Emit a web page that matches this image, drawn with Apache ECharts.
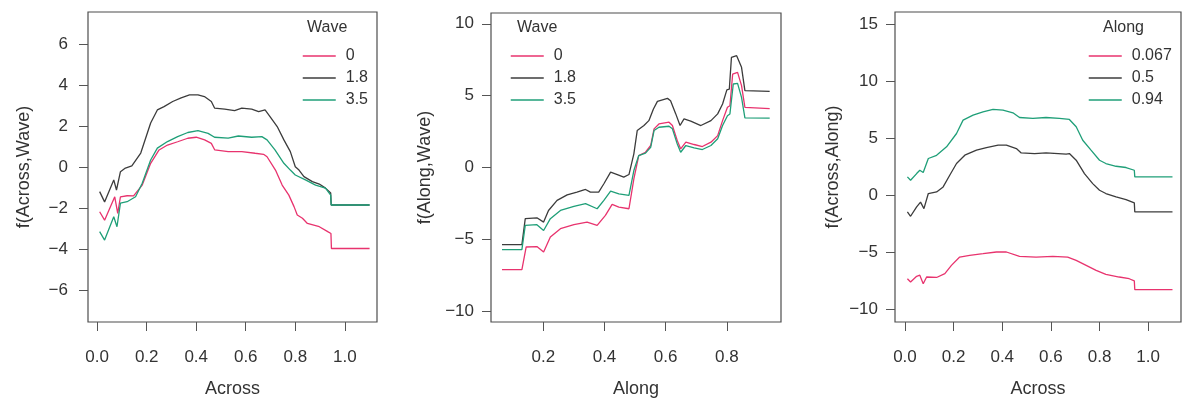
<!DOCTYPE html>
<html>
<head>
<meta charset="utf-8">
<script src="https://cdn.jsdelivr.net/npm/echarts/dist/echarts.min.js"></script>
<style>
html,body{margin:0;padding:0;background:#fff;}
#chart{width:1182px;height:403px;}
</style>
</head>
<body>
<div id="chart"></div>
<script>
// ---------- Panel 1: f(Across, Wave) ----------
const p1_wave_names = ['0', '1.8', '3.5'];
const p1_x_w0 = [0.01,0.03,0.071,0.083,0.094,0.121,0.147,0.182,0.216,0.25,0.284,0.325,0.366,0.4,0.434,0.461,0.475,0.529,0.584,0.638,0.672,0.686,0.72,0.747,0.774,0.795,0.808,0.829,0.849,0.897,0.931,0.944,0.946,1.10];
const p1_y_w0 = [-2.18,-2.59,-1.45,-2.26,-1.45,-1.4,-1.41,-0.88,0.18,0.83,1.07,1.23,1.4,1.45,1.32,1.15,0.83,0.75,0.75,0.67,0.62,0.5,-0.15,-0.88,-1.37,-1.93,-2.34,-2.5,-2.75,-2.91,-3.15,-3.24,-3.97,-3.97];
const p1_x_w18 = [0.01,0.03,0.067,0.078,0.094,0.114,0.14,0.176,0.196,0.216,0.243,0.27,0.305,0.339,0.373,0.407,0.433,0.461,0.474,0.515,0.555,0.584,0.624,0.652,0.678,0.698,0.727,0.754,0.78,0.8,0.815,0.835,0.869,0.897,0.922,0.943,0.945,1.10];
const p1_y_w18 = [-1.2,-1.7,-0.63,-1.12,-0.23,-0.05,0.05,0.68,1.41,2.14,2.78,2.94,3.19,3.37,3.51,3.51,3.43,3.19,2.87,2.82,2.75,2.87,2.82,2.7,2.78,2.45,1.97,1.32,0.75,0.01,-0.15,-0.47,-0.71,-0.83,-1.03,-1.27,-1.85,-1.85];
const p1_x_w35 = [0.01,0.03,0.067,0.08,0.094,0.121,0.155,0.182,0.216,0.243,0.284,0.325,0.366,0.407,0.448,0.474,0.529,0.57,0.624,0.665,0.686,0.718,0.754,0.78,0.8,0.841,0.882,0.922,0.943,0.945,1.10];
const p1_y_w35 = [-3.15,-3.56,-2.42,-2.91,-1.76,-1.69,-1.45,-0.79,0.34,0.92,1.24,1.48,1.68,1.77,1.64,1.45,1.41,1.51,1.45,1.48,1.32,0.83,0.18,-0.15,-0.39,-0.63,-0.88,-1.03,-1.37,-1.85,-1.85];

// ---------- Panel 2: f(Along, Wave) ----------
const p2_x_w0 = [0.065,0.13,0.144,0.179,0.201,0.223,0.256,0.3,0.343,0.376,0.403,0.425,0.447,0.48,0.496,0.512,0.534,0.551,0.562,0.578,0.611,0.622,0.638,0.649,0.666,0.693,0.72,0.748,0.77,0.786,0.802,0.81,0.819,0.835,0.848,0.859,0.94];
const p2_y_w0 = [-7.1,-7.1,-5.53,-5.5,-5.88,-4.84,-4.26,-3.98,-3.8,-4.03,-3.33,-2.57,-2.75,-2.87,-0.79,0.83,1.06,1.53,2.69,3.03,3.15,2.92,1.87,1.3,1.76,1.6,1.46,1.76,2.22,3.26,4.19,4.3,6.5,6.62,5.7,4.19,4.1];
const p2_x_w18 = [0.065,0.13,0.141,0.179,0.201,0.217,0.245,0.278,0.31,0.338,0.354,0.381,0.398,0.42,0.442,0.463,0.48,0.496,0.507,0.529,0.545,0.56,0.573,0.606,0.616,0.633,0.647,0.66,0.682,0.715,0.748,0.77,0.786,0.8,0.808,0.815,0.832,0.848,0.859,0.94];
const p2_y_w18 = [-5.37,-5.37,-3.56,-3.5,-3.8,-2.99,-2.29,-1.9,-1.71,-1.53,-1.71,-1.71,-1.13,-0.32,-0.49,-0.67,-0.49,0.95,2.57,2.92,3.26,4.07,4.6,4.81,4.65,3.73,2.92,3.38,3.22,2.92,3.26,3.73,4.42,5.4,5.45,7.66,7.78,6.97,5.35,5.3];
const p2_x_w35 = [0.065,0.13,0.141,0.179,0.201,0.223,0.256,0.3,0.338,0.376,0.398,0.42,0.447,0.48,0.496,0.512,0.534,0.551,0.562,0.578,0.611,0.622,0.638,0.649,0.666,0.693,0.72,0.748,0.77,0.786,0.802,0.81,0.821,0.835,0.848,0.859,0.94];
const p2_y_w35 = [-5.72,-5.72,-4.03,-3.98,-4.38,-3.56,-2.99,-2.71,-2.52,-2.87,-2.29,-1.64,-1.83,-1.94,-0.21,0.83,1.0,1.4,2.57,2.8,2.87,2.69,1.64,1.06,1.53,1.37,1.25,1.53,2.0,2.92,3.6,3.72,5.81,5.85,4.88,3.45,3.43];

// ---------- Panel 3: f(Across, Along) ----------
const p3_along_names = ['0.067', '0.5', '0.94'];
const p3_x_a0067 = [0.01,0.023,0.048,0.061,0.075,0.089,0.13,0.164,0.191,0.225,0.266,0.321,0.376,0.417,0.471,0.539,0.608,0.669,0.704,0.745,0.786,0.826,0.881,0.922,0.943,0.945,1.10];
const p3_y_a0067 = [-7.31,-7.6,-7.1,-7.0,-7.75,-7.16,-7.2,-6.87,-6.14,-5.41,-5.26,-5.12,-4.97,-4.97,-5.35,-5.41,-5.35,-5.41,-5.7,-6.14,-6.58,-6.93,-7.16,-7.31,-7.5,-8.27,-8.27];
const p3_x_a05 = [0.01,0.023,0.048,0.064,0.078,0.096,0.13,0.157,0.184,0.212,0.246,0.294,0.335,0.383,0.417,0.458,0.478,0.533,0.58,0.663,0.676,0.704,0.738,0.772,0.8,0.826,0.868,0.909,0.943,0.945,1.10];
const p3_y_a05 = [-1.46,-1.84,-1.02,-0.6,-1.17,0.15,0.29,0.73,1.75,2.78,3.51,3.95,4.18,4.39,4.39,4.09,3.71,3.65,3.71,3.6,3.65,3.07,1.9,1.02,0.44,0.15,-0.15,-0.38,-0.67,-1.46,-1.46];
const p3_x_a094 = [0.01,0.023,0.048,0.061,0.075,0.096,0.13,0.171,0.212,0.239,0.28,0.321,0.362,0.403,0.444,0.471,0.526,0.58,0.635,0.676,0.704,0.731,0.765,0.8,0.826,0.868,0.909,0.943,0.945,1.10];
const p3_y_a094 = [1.61,1.32,1.9,2.19,2.0,3.22,3.5,4.24,5.41,6.58,7.02,7.31,7.52,7.46,7.22,6.81,6.73,6.81,6.73,6.64,6.0,4.82,3.95,3.07,2.78,2.54,2.43,2.19,1.61,1.61];

// ---------- Tick labels ----------
const ticks_across = [0, 0.2, 0.4, 0.6, 0.8, 1.0];
const ticks_along = [0.2, 0.4, 0.6, 0.8];
const ticks_p1_y = [-6, -4, -2, 0, 2, 4, 6];
const ticks_p2_y = [-10, -5, 0, 5, 10];
const ticks_p3_y = [-10, -5, 0, 5, 10, 15];

const COL_PINK = '#e8336e';
const COL_DARK = '#3c3c3c';
const COL_GREEN = '#1f9f78';
const TXT = '#333';
const FONT = '"Liberation Sans", Arial, Helvetica, sans-serif';

const pairs = (xs, ys) => xs.map((x, i) => [x, ys[i]]);
const minus = s => String(s).replace('-', '\u2212');

function xAx(gi, min, max, ticks, name) {
  return {
    type: 'value', gridIndex: gi, min, max, name, position: 'bottom',
    nameLocation: 'middle', nameGap: 58,
    nameTextStyle: { fontSize: 18, color: TXT, fontFamily: FONT },
    axisLine: { show: false, onZero: false }, splitLine: { show: false },
    axisTick: { show: true, length: 9, customValues: ticks, lineStyle: { color: '#555', width: 1 } },
    axisLabel: { customValues: ticks, formatter: v => v.toFixed(1), fontSize: 17, color: TXT, fontFamily: FONT, margin: 27 }
  };
}
function yAx(gi, min, max, ticks, name, gap, margin) {
  return {
    type: 'value', gridIndex: gi, min, max, name, position: 'left',
    nameLocation: 'middle', nameGap: gap, nameRotate: 90,
    nameTextStyle: { fontSize: 18, color: TXT, fontFamily: FONT },
    axisLine: { show: false, onZero: false }, splitLine: { show: false },
    axisTick: { show: true, length: 9, customValues: ticks, lineStyle: { color: '#555', width: 1 } },
    axisLabel: { customValues: ticks, formatter: v => minus(v), fontSize: 17, color: TXT, fontFamily: FONT, margin: margin }
  };
}
function line(name, gi, xs, ys, color) {
  return {
    type: 'line', name, xAxisIndex: gi, yAxisIndex: gi,
    data: pairs(xs, ys), symbol: 'none', showSymbol: false,
    lineStyle: { color, width: 1.3 }, itemStyle: { color },
    animation: false, silent: true
  };
}
function legend(left, names) {
  return {
    orient: 'vertical', left, top: 42, itemWidth: 33, itemHeight: 14, itemGap: 4,
    data: names, selectedMode: false,
    itemStyle: { opacity: 0, color: 'transparent', borderWidth: 0 },
    lineStyle: { width: 1.5 },
    textStyle: { fontSize: 16, color: TXT, fontFamily: FONT, padding: [0, 0, 0, 5], lineHeight: 18 }
  };
}

const chart = echarts.init(document.getElementById('chart'), null, { renderer: 'canvas' });
chart.setOption({
  backgroundColor: '#fff',
  animation: false,
  grid: [
    { left: 88, top: 12, width: 289, height: 310, show: true, borderColor: '#4d4d4d', borderWidth: 1.2, backgroundColor: 'transparent' },
    { left: 491, top: 13, width: 290, height: 309, show: true, borderColor: '#4d4d4d', borderWidth: 1.2, backgroundColor: 'transparent' },
    { left: 895, top: 12, width: 286, height: 310, show: true, borderColor: '#4d4d4d', borderWidth: 1.2, backgroundColor: 'transparent' }
  ],
  xAxis: [
    xAx(0, -0.037, 1.13, ticks_across, 'Across'),
    xAx(1, 0.029, 0.977, ticks_along, 'Along'),
    xAx(2, -0.041, 1.135, ticks_across, 'Across')
  ],
  yAxis: [
    yAx(0, -7.55, 7.55, ticks_p1_y, 'f(Across,Wave)', 55, 20),
    yAx(1, -10.75, 10.75, ticks_p2_y, 'f(Along,Wave)', 57, 17),
    yAx(2, -11.1, 16.05, ticks_p3_y, 'f(Across,Along)', 53, 17)
  ],
  legend: [
    legend(297, p1_wave_names),
    legend(505, p1_wave_names),
    legend(1083, p3_along_names)
  ],
  graphic: [
    { type: 'text', left: 307, top: 20, style: { text: 'Wave', fontSize: 16, fill: TXT, fontFamily: FONT } },
    { type: 'text', left: 517, top: 20, style: { text: 'Wave', fontSize: 16, fill: TXT, fontFamily: FONT } },
    { type: 'text', left: 1103, top: 20, style: { text: 'Along', fontSize: 16, fill: TXT, fontFamily: FONT } }
  ],
  series: [
    line('0', 0, p1_x_w0, p1_y_w0, COL_PINK),
    line('1.8', 0, p1_x_w18, p1_y_w18, COL_DARK),
    line('3.5', 0, p1_x_w35, p1_y_w35, COL_GREEN),
    line('0', 1, p2_x_w0, p2_y_w0, COL_PINK),
    line('1.8', 1, p2_x_w18, p2_y_w18, COL_DARK),
    line('3.5', 1, p2_x_w35, p2_y_w35, COL_GREEN),
    line('0.067', 2, p3_x_a0067, p3_y_a0067, COL_PINK),
    line('0.5', 2, p3_x_a05, p3_y_a05, COL_DARK),
    line('0.94', 2, p3_x_a094, p3_y_a094, COL_GREEN)
  ]
});
</script>
</body>
</html>
